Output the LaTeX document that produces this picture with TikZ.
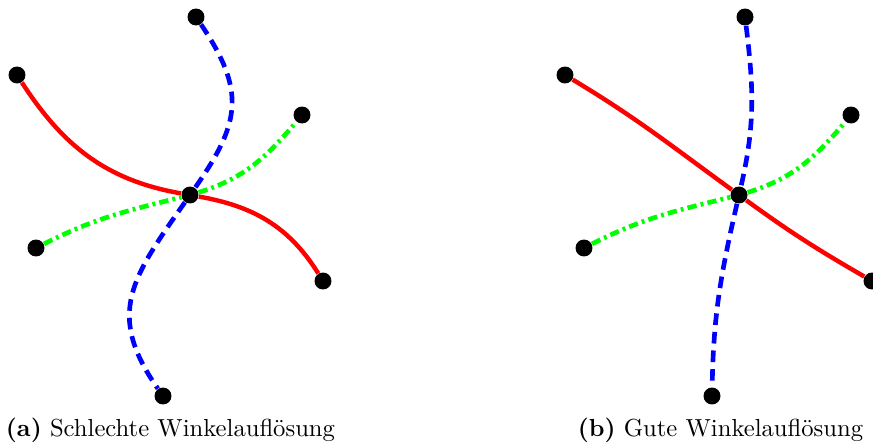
\documentclass[tikz,border=0pt]{standalone}
\usepackage{tikz}
\usetikzlibrary{positioning}
\usetikzlibrary{backgrounds}
\tikzset{vert/.style = {fill, circle, inner sep = 0, minimum size = 7.3pt}}
\tikzset{redline/.style = {red, line width = 1.9pt}}
\tikzset{blueline/.style = {blue, line width = 2pt, dash pattern = on 5pt off 3pt}}
\tikzset{greenline/.style = {green, line width = 2pt,
                             dash pattern = on 4pt off 1.8pt on 1.2pt off 1.8pt}}
\tikzset{caption/.style = {anchor = base, font = \fontsize{10.6pt}{13pt}\selectfont}}

\begin{document}
\begin{tikzpicture}[x=0.43pt, y=0.43pt]
  \useasboundingbox (0,0) rectangle (873,447);
  % (a) bad angular resolution
  \node[vert] (ac) at (190,252) {};
  \node[vert] (ar1) at (17,372) {};
  \node[vert] (ar2) at (323,166) {};
  \node[vert] (ab1) at (196,430) {};
  \node[vert] (ab2) at (163,51) {};
  \node[vert] (ag1) at (36,199) {};
  \node[vert] (ag2) at (302,332) {};
  % (b) good angular resolution
  \node[vert] (bc) at (739,252) {};
  \node[vert] (br1) at (565,372) {};
  \node[vert] (br2) at (872,166) {};
  \node[vert] (bb1) at (745,430) {};
  \node[vert] (bb2) at (712,51) {};
  \node[vert] (bg1) at (584,199) {};
  \node[vert] (bg2) at (851,332) {};

  \begin{scope}[on background layer]
    \draw[redline] (ar1) to[out=-57, in=170] (ac) to[out=-10, in=122] (ar2);
    \draw[blueline] (ab1) to[out=-56, in=55, looseness=1.25] (ac)
                          to[out=-125, in=125, looseness=1.25] (ab2);
    \draw[greenline] (ag1) to[out=27, in=-166] (ac) to[out=17, in=-130] (ag2);

    \draw[redline] (br1) to[out=-31, in=144] (bc) to[out=-36, in=150] (br2);
    \draw[blueline] (bb1) to[out=-83, in=77] (bc) to[out=-103, in=89] (bb2);
    \draw[greenline] (bg1) to[out=27, in=-166] (bc) to[out=17, in=-130] (bg2);
  \end{scope}

  \node[caption] (capa) at (170.5,11) {\textbf{(a)} Schlechte Winkelauflösung};
  \node[caption] (capb) at (720.5,11) {\textbf{(b)} Gute Winkelauflösung};
\end{tikzpicture}
\end{document}
